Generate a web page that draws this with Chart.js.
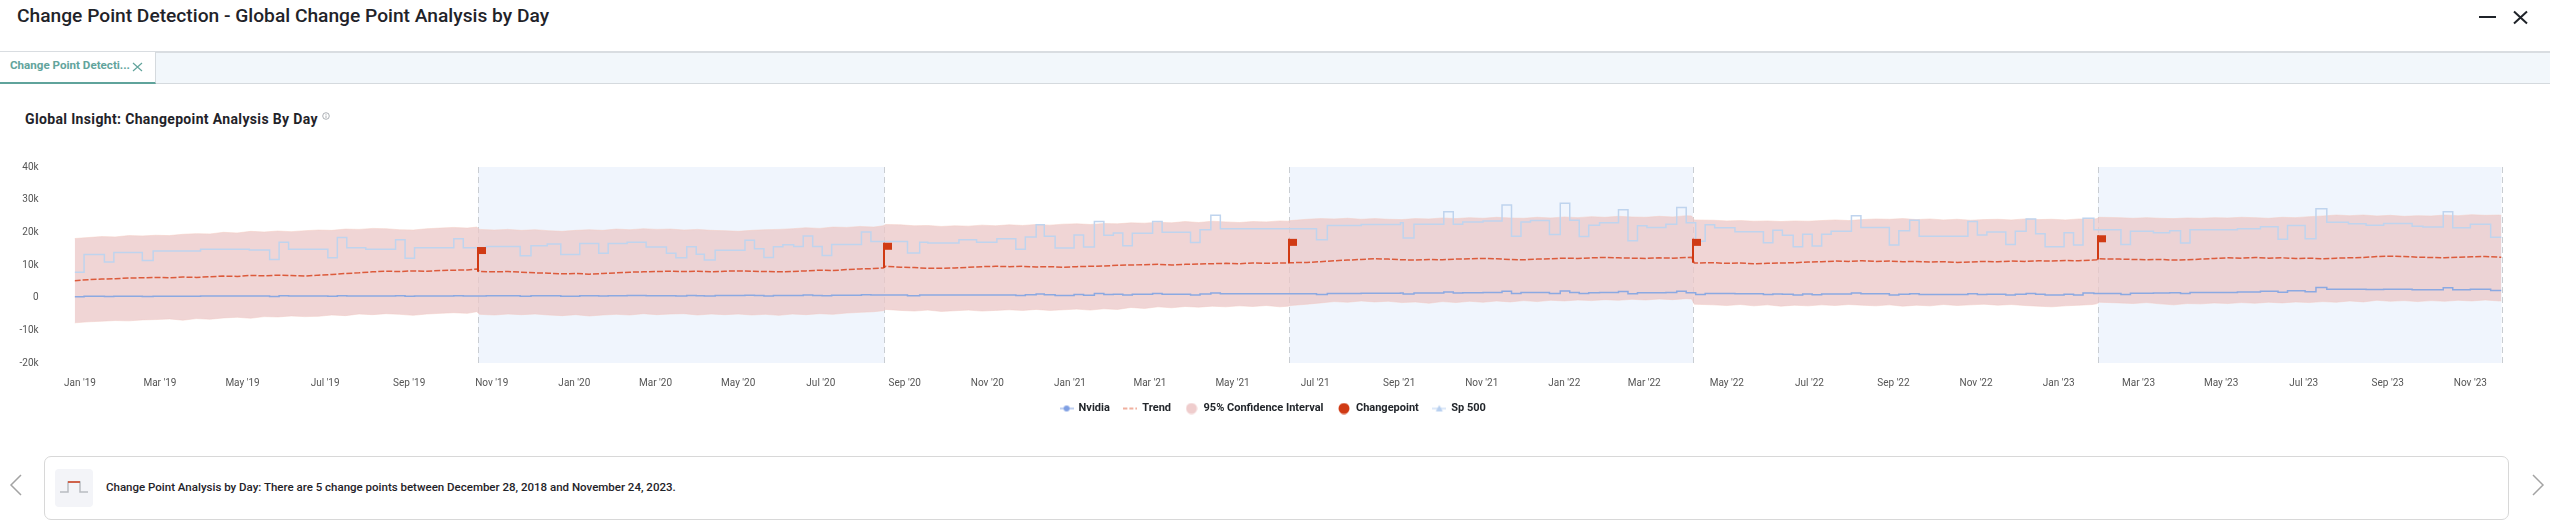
<!DOCTYPE html>
<html lang="en">

<head>
  <meta charset="UTF-8">
  <title>Change Point Detection</title>
  <script src="https://cdn.jsdelivr.net/npm/chart.js"></script>
  <style>
    * {
      box-sizing: border-box;
    }

    body {
      margin: 0;
      width: 2550px;
      height: 528px;
      overflow: hidden;
      position: relative;
      background: #fff;
      font-family: 'Roboto', sans-serif;
      color: #1f2329;
    }

    .abs {
      position: absolute;
      white-space: nowrap;
    }

    #title {
      left: 17px;
      top: 3px;
      font-size: 19.200px;
      line-height: 26px;
      font-weight: 500;
    }

    #tabbar {
      left: 0;
      top: 51px;
      width: 2550px;
      height: 33px;
      background: #f2f7fb;
      border-top: 2px solid #d9dde1;
      border-bottom: 1px solid #d5dade;
    }

    #tab {
      left: 0;
      top: 52px;
      width: 156px;
      height: 32px;
      background: #fff;
      border-right: 1px solid #d5dade;
      border-bottom: 2px solid #5fa39b;
    }

    #tabtext {
      left: 10px;
      top: 57px;
      font-size: 11.600px;
      line-height: 16px;
      font-weight: 700;
      color: #62a49c;
    }

    #heading {
      left: 25px;
      top: 110px;
      font-size: 14px;
      line-height: 18px;
      font-weight: 700;
      letter-spacing: 0.350px;
    }

    #chartbox {
      left: 0;
      top: 150px;
      width: 2546px;
      height: 274px;
    }

    #insight {
      left: 44px;
      top: 456px;
      width: 2465px;
      height: 64px;
      border: 1px solid #d8d8d8;
      border-radius: 7px;
    }

    #iconbox {
      left: 55px;
      top: 469px;
      width: 38px;
      height: 38px;
      border-radius: 4px;
      background: #f3f4f8;
    }

    #insighttext {
      left: 106px;
      top: 479px;
      font-size: 11.500px;
      line-height: 16px;
      font-weight: 500;
    }
  </style>
</head>

<body>
  <div class="abs" id="title">Change Point Detection - Global Change Point Analysis by Day</div>
  <svg class="abs" style="left:2470px;top:5px" width="70" height="24" fill="none" stroke="#1f2329" stroke-width="2">
    <path d="M9 12H26" />
    <path d="M44 6.500L57 18.500M57 6.500L44 18.500" />
  </svg>

  <div class="abs" id="tabbar"></div>
  <div class="abs" id="tab"></div>
  <div class="abs" id="tabtext">Change Point Detecti...</div>
  <svg class="abs" style="left:132px;top:62px" width="12" height="10" fill="none" stroke="#62a49c" stroke-width="1.200">
    <path d="M1 1L10 9M10 1L1 9" />
  </svg>

  <div class="abs" id="heading">Global Insight: Changepoint Analysis By Day</div>
  <svg class="abs" style="left:322px;top:112px" width="8" height="8" fill="none" stroke="#8a8f96" stroke-width="0.700">
    <circle cx="4" cy="4" r="3.300" />
    <path d="M4 3.500V6M4 2V2.800" />
  </svg>

  <div class="abs" id="chartbox"><canvas id="chart" width="2546" height="274"></canvas></div>

  <svg class="abs" style="left:8px;top:472px" width="16" height="26" fill="none" stroke="#a3a3a3" stroke-width="1.500">
    <path d="M13 3L3 13L13 23" />
  </svg>
  <div class="abs" id="insight"></div>
  <div class="abs" id="iconbox"></div>
  <svg class="abs" style="left:58px;top:478px" width="32" height="20" fill="none" stroke-width="1.500">
    <path d="M2 14H10V4H22V14H30" stroke="#b9bcc1" />
    <path d="M10 4H22" stroke="#d2401f" />
  </svg>
  <div class="abs" id="insighttext">Change Point Analysis by Day: There are 5 change points between December 28, 2018 and November 24, 2023.</div>
  <svg class="abs" style="left:2530px;top:472px" width="16" height="26" fill="none" stroke="#a3a3a3" stroke-width="1.500">
    <path d="M3 3L13 13L3 23" />
  </svg>

  <script>
    // x values are days since 2018-12-28
    const tickDays = [4, 63, 124, 185, 247, 308, 369, 429, 490, 551, 613, 674, 735, 794, 855, 916, 978, 1039, 1100, 1159, 1220, 1281, 1343, 1404, 1465, 1524, 1585, 1646, 1708, 1769];
    const tickLabels = ["Jan '19", "Mar '19", "May '19", "Jul '19", "Sep '19", "Nov '19", "Jan '20", "Mar '20", "May '20", "Jul '20", "Sep '20", "Nov '20", "Jan '21", "Mar '21", "May '21", "Jul '21", "Sep '21", "Nov '21", "Jan '22", "Mar '22", "May '22", "Jul '22", "Sep '22", "Nov '22", "Jan '23", "Mar '23", "May '23", "Jul '23", "Sep '23", "Nov '23"];
    const yTicks = [-20000, -10000, 0, 10000, 20000, 30000, 40000];

    // step series, value holds from its day until the next day in the list
    const stepDays = [
      0, 7, 22, 29, 50, 58, 93, 129, 144, 151,
      158, 187, 194, 201, 215, 237, 244, 251, 280, 287,
      304, 329, 337, 349, 359, 373, 387, 394, 408, 422,
      437, 444, 452, 459, 465, 473, 495, 502, 509, 516,
      523, 531, 538, 545, 552, 559, 581, 588, 615, 624,
      630, 653, 666, 681, 695, 702, 710, 716, 724, 738,
      745, 753, 760, 767, 774, 781, 796, 803, 824, 831,
      839, 846, 917, 925, 950, 979, 981, 989, 1011, 1018,
      1025, 1040, 1054, 1061, 1068, 1075, 1089, 1097, 1104, 1111,
      1118, 1126, 1140, 1147, 1154, 1161, 1175, 1183, 1190, 1197,
      1204, 1211, 1226, 1247, 1254, 1261, 1269, 1276, 1283, 1290,
      1297, 1312, 1319, 1340, 1347, 1355, 1362, 1398, 1405, 1412,
      1426, 1433, 1441, 1448, 1455, 1469, 1476, 1483, 1491, 1511,
      1518, 1535, 1547, 1555, 1562, 1597, 1614, 1627, 1634, 1647,
      1655, 1663, 1679, 1692, 1705, 1726, 1734, 1749, 1756, 1769,
      1784, 1792
    ];
    const sp500 = [
      7800, 13200, 10900, 13800, 11400, 14300, 14800, 14600, 11700, 17000,
      14800, 12200, 18400, 15300, 14800, 17700, 12100, 15300, 18000, 15300,
      15700, 12800, 15900, 16400, 13200, 16600, 13600, 16600, 17000, 15500,
      13600, 12200, 15600, 13300, 11500, 14500, 17600, 15000, 12300, 15600,
      16200, 15700, 18900, 15700, 12900, 16300, 20100, 17200, 13700, 17000,
      16700, 17700, 17000, 18000, 14800, 18600, 22300, 18800, 15200, 19200,
      15500, 23300, 19100, 19800, 15900, 19700, 23300, 20000, 16900, 20800,
      25200, 21100, 17700, 22100, 22400, 22900, 18300, 22500, 26300, 22500,
      23200, 23500, 28400, 18800, 23200, 23600, 19300, 28900, 23700, 18700,
      22200, 22900, 26900, 17400, 22000, 21500, 22500, 27600, 22900, 17300,
      22300, 21400, 20200, 16800, 20600, 19100, 15600, 19400, 15800, 19400,
      20300, 25100, 21500, 16100, 20500, 23700, 18800, 23300, 19200, 20100,
      16300, 20300, 24100, 19600, 15600, 19900, 16100, 24300, 20800, 16300,
      20300, 19900, 20500, 16700, 20800, 21100, 21700, 17900, 22100, 18000,
      27200, 23100, 22600, 22200, 22700, 21900, 21600, 26300, 21400, 22500,
      18500, 18500
    ];
    const nvidia = [
      300, 450, 350, 450, 350, 450, 500, 500, 350, 550,
      500, 400, 600, 500, 500, 600, 400, 500, 600, 500,
      550, 450, 550, 550, 450, 550, 500, 600, 650, 600,
      550, 500, 700, 600, 500, 650, 750, 650, 500, 700,
      700, 700, 850, 700, 550, 750, 900, 800, 600, 800,
      800, 850, 800, 850, 650, 900, 1150, 900, 700, 950,
      750, 1250, 1000, 1050, 800, 1050, 1250, 1050, 850, 1150,
      1450, 1200, 1000, 1300, 1350, 1450, 1150, 1450, 1700, 1450,
      1500, 1550, 2000, 1250, 1550, 1600, 1300, 2050, 1600, 1250,
      1500, 1550, 1850, 1200, 1500, 1500, 1550, 1950, 1500, 1000,
      1300, 1250, 1200, 950, 1150, 1050, 850, 1100, 900, 1100,
      1150, 1400, 1200, 850, 1050, 1200, 950, 1200, 1000, 1050,
      800, 1050, 1300, 1050, 800, 1050, 850, 1450, 1250, 1000,
      1350, 1400, 1500, 1250, 1550, 1700, 1950, 1650, 2150, 1800,
      3100, 2600, 2550, 2500, 2600, 2450, 2400, 3000, 2400, 2600,
      2200, 2200
    ];

    // confidence band and trend, one row per change point segment
    const bandDays = [
      0, 10, 20, 30, 40, 50, 60, 70, 80, 90, 100, 110, 120, 130, 140, 150, 160, 170, 180, 190, 200, 210, 220, 230, 240, 250, 260, 270, 280, 290, 297,
      299, 310, 320, 330, 340, 350, 360, 370, 380, 390, 400, 410, 420, 430, 440, 450, 460, 470, 480, 490, 500, 510, 520, 530, 540, 550, 560, 570, 580, 590, 597,
      599, 610, 620, 630, 640, 650, 660, 670, 680, 690, 700, 710, 720, 730, 740, 750, 760, 770, 780, 790, 800, 810, 820, 830, 840, 850, 860, 870, 880, 890, 896,
      898, 910, 920, 930, 940, 950, 960, 970, 980, 990, 1000, 1010, 1020, 1030, 1040, 1050, 1060, 1070, 1080, 1090, 1100, 1110, 1120, 1130, 1140, 1150, 1160, 1170, 1180, 1190, 1194,
      1196, 1210, 1220, 1230, 1240, 1250, 1260, 1270, 1280, 1290, 1300, 1310, 1320, 1330, 1340, 1350, 1360, 1370, 1380, 1390, 1400, 1410, 1420, 1430, 1440, 1450, 1460, 1470, 1480, 1490, 1493,
      1495, 1510, 1520, 1530, 1540, 1550, 1560, 1570, 1580, 1590, 1600, 1610, 1620, 1630, 1640, 1650, 1660, 1670, 1680, 1690, 1700, 1710, 1720, 1730, 1740, 1750, 1760, 1770, 1780, 1790, 1792
    ];
    const bandUpper = [
      18100, 18400, 18700, 18600, 19000, 18900, 19100, 19000, 19400, 19600, 19500, 20000, 19800, 20300, 20100, 20400, 20200, 20500, 20700, 20600, 21000, 20900, 21200, 21100, 20800, 20700, 21100, 21300, 21500, 21300, 21600,
      20900, 20700, 20900, 20600, 20800, 20500, 20300, 20600, 20800, 20600, 21000, 20800, 21100, 20900, 21000, 20700, 20900, 20600, 20500, 20300, 20600, 20800, 20900, 21100, 21400, 21200, 21600, 21500, 21800, 21600, 22000,
      22400, 22300, 22000, 22100, 21800, 22000, 21900, 22200, 22000, 22300, 22100, 22400, 22200, 22500, 22600, 22400, 22700, 22600, 22900, 22800, 23100, 22900, 23300, 23000, 23400, 23200, 23000, 23300, 23200, 23500, 23400,
      23600, 24000, 24200, 24100, 24300, 24000, 24200, 24000, 23900, 24200, 24100, 24400, 24200, 24500, 24300, 24600, 24400, 24300, 24600, 24400, 24700, 24500, 24800, 24600, 24900, 24700, 24600, 24900, 24700, 25100, 25000,
      23800, 23700, 23500, 23600, 23400, 23500, 23300, 23500, 23400, 23600, 23800, 23600, 23900, 24100, 24000, 24200, 23900, 24100, 23800, 24000, 23700, 23900, 24000, 23800, 24100, 23900, 24000, 23800, 24100, 24000, 24200,
      24600, 24500, 24300, 24500, 24300, 24200, 24400, 24300, 24500, 24400, 24600, 24500, 24300, 24600, 24500, 24800, 25000, 25300, 25100, 25300, 25000, 25200, 24900, 25100, 25000, 25300, 25100, 25400, 25200, 25300, 25200
    ];
    const bandLower = [
      -7700, -7400, -7200, -7000, -7100, -6800, -6700, -6500, -6900, -6400, -6600, -6200, -6000, -6300, -5800, -5900, -5600, -5800, -5700, -5300, -5500, -5000, -5200, -4900, -5100, -5400, -5000, -4800, -4600, -4800, -4300,
      -5100, -5300, -5000, -5200, -5000, -5300, -5500, -5200, -5600, -5300, -5100, -5300, -4900, -5200, -5000, -4900, -5300, -5000, -5200, -5000, -5300, -5100, -5400, -5000, -5200, -4900, -5100, -4700, -4500, -4300, -4000,
      -3600, -3900, -4100, -3800, -4200, -4000, -3800, -4100, -3900, -3700, -3900, -3600, -3900, -3700, -3500, -3800, -3400, -3600, -3000, -3300, -2800, -3100, -2700, -2900, -2600, -2800, -2500, -2700, -2400, -2800, -2600,
      -2400, -2000, -1600, -1200, -1400, -1000, -1300, -1100, -1500, -1300, -1700, -1200, -1500, -1100, -1400, -1000, -1300, -900, -1200, -800, -1000, -700, -900, -600, -800, -500, -700, -400, -600, -300, -400,
      -2000, -2200, -2400, -2100, -2500, -2200, -2600, -2300, -2500, -2200, -2400, -2100, -2300, -2500, -2200, -2600, -2300, -2500, -2100, -2400, -2200, -2000, -2300, -2100, -2400, -2600, -2800, -2500, -2300, -2100, -1900,
      -1400, -1600, -1800, -1500, -1900, -2200, -1800, -1900, -1600, -1800, -1500, -1700, -1400, -1600, -1300, -1500, -1200, -1400, -1000, -1300, -800, -1100, -900, -1200, -900, -1100, -800, -1000, -700, -1000, -1000
    ];
    const trend = [
      5200, 5500, 5700, 5800, 6000, 6100, 6200, 6100, 6300, 6200, 6400, 6600, 6500, 6800, 6700, 6900, 6800, 6600, 6900, 7100, 7400, 7600, 7900, 8100, 8000, 8200, 8100, 8300, 8400, 8500, 8800,
      8000, 7900, 8000, 7800, 7600, 7500, 7300, 7400, 7200, 7400, 7600, 7800, 7900, 8000, 8100, 8000, 8100, 7900, 8100, 8200, 8100, 8000, 7900, 8000, 8200, 8400, 8300, 8600, 8800, 8900, 9100,
      9600, 9300, 9200, 9000, 9000, 9100, 9300, 9500, 9600, 9500, 9600, 9400, 9500, 9300, 9500, 9600, 9700, 9900, 10000, 10100, 10200, 10000, 10200, 10300, 10400, 10500, 10400, 10600, 10500, 10600, 10600,
      10700, 10800, 11000, 11300, 11500, 11700, 11900, 11800, 11600, 11500, 11700, 11600, 11800, 11900, 12000, 11900, 11700, 11600, 11800, 11900, 12100, 12000, 12200, 12300, 12200, 12100, 12000, 12200, 12100, 12300, 12400,
      10600, 10700, 10500, 10600, 10400, 10500, 10600, 10700, 10900, 11000, 11200, 11100, 11300, 11100, 11200, 11000, 11100, 10900, 11000, 10800, 10900, 11100, 11000, 11200, 11100, 11300, 11200, 11400, 11300, 11500, 11600,
      11900, 11800, 11700, 11600, 11700, 11500, 11600, 11800, 12000, 12200, 12100, 12300, 12100, 12200, 12000, 12100, 11900, 12100, 12200, 12300, 12600, 12700, 12600, 12400, 12300, 12200, 12400, 12500, 12600, 12400, 12400
    ];

    const changepointDays = [298, 598, 897, 1195, 1494];
    const flagTops = [15500, 16800, 18000, 18000, 19100];
    const flagBases = [7900, 9100, 10600, 10700, 11700];
    const shadedFrom = [298, 897, 1494];
    const shadedTo = [598, 1195, 1792];
    const dividerDays = [298, 598, 897, 1195, 1494, 1792];

    function toPoints(days, values) {
      return days.map((d, i) => ({ x: d, y: values[i] }));
    }

    // small canvases used as legend glyphs
    function lineGlyph(color, dashed, marker) {
      const c = document.createElement('canvas');
      c.width = 14;
      c.height = 10;
      const g = c.getContext('2d');
      g.strokeStyle = color;
      g.fillStyle = color;
      g.lineWidth = 1;
      g.setLineDash(dashed ? [4, 2] : []);
      g.beginPath();
      g.moveTo(0, 5);
      g.lineTo(14, 5);
      g.stroke();
      if (marker === 'circle') {
        g.beginPath();
        g.arc(7, 5, 3, 0, Math.PI * 2);
        g.fill();
      }
      if (marker === 'triangle') {
        g.beginPath();
        g.moveTo(7, 1.5);
        g.lineTo(10.5, 8);
        g.lineTo(3.5, 8);
        g.fill();
      }
      return c;
    }

    function dotGlyph(color) {
      const c = document.createElement('canvas');
      c.width = 12;
      c.height = 12;
      const g = c.getContext('2d');
      g.fillStyle = color;
      g.beginPath();
      g.arc(6, 6, 5.5, 0, Math.PI * 2);
      g.fill();
      return c;
    }

    const backdrop = {
      id: 'backdrop',
      beforeDatasetsDraw(chart) {
        const { ctx, chartArea, scales } = chart;
        ctx.save();
        ctx.fillStyle = '#f0f5fd';
        shadedFrom.forEach((from, i) => {
          const x0 = scales.x.getPixelForValue(from);
          const x1 = scales.x.getPixelForValue(shadedTo[i]);
          ctx.fillRect(x0, chartArea.top, x1 - x0, chartArea.bottom - chartArea.top);
        });
        ctx.strokeStyle = '#c9cdd2';
        ctx.setLineDash([6, 4]);
        dividerDays.forEach(day => {
          const x = Math.round(scales.x.getPixelForValue(day)) + 0.5;
          ctx.beginPath();
          ctx.moveTo(x, chartArea.top);
          ctx.lineTo(x, chartArea.bottom);
          ctx.stroke();
        });
        ctx.restore();
      }
    };

    const flags = {
      id: 'flags',
      afterDatasetsDraw(chart) {
        const { ctx, scales } = chart;
        ctx.save();
        ctx.strokeStyle = '#d03a14';
        ctx.fillStyle = '#d03a14';
        ctx.lineWidth = 2;
        changepointDays.forEach((day, i) => {
          const x = Math.round(scales.x.getPixelForValue(day));
          const top = scales.y.getPixelForValue(flagTops[i]);
          ctx.beginPath();
          ctx.moveTo(x, top);
          ctx.lineTo(x, scales.y.getPixelForValue(flagBases[i]));
          ctx.stroke();
          ctx.fillRect(x, top, 8, 7);
        });
        ctx.restore();
      }
    };

    const datasets = [
      {
        label: 'Nvidia',
        data: toPoints(stepDays, nvidia),
        stepped: true,
        borderColor: '#8ba9e2',
        borderWidth: 1.5,
        pointRadius: 0,
        order: 2,
        glyph: lineGlyph('#7f9fe3', false, 'circle')
      },
      {
        label: 'Trend',
        data: toPoints(bandDays, trend),
        borderColor: '#dc5b3c',
        borderWidth: 1.5,
        borderDash: [6, 2],
        pointRadius: 0,
        order: 1,
        glyph: lineGlyph('#e0603f', true)
      },
      {
        label: '95% Confidence Interval',
        data: toPoints(bandDays, bandUpper),
        borderColor: 'rgba(245, 205, 195, 0.5)',
        borderWidth: 1,
        backgroundColor: 'rgba(235, 199, 199, 0.75)',
        fill: '+1',
        pointRadius: 0,
        order: 5,
        glyph: dotGlyph('#efcdcd')
      },
      {
        label: 'Lower bound',
        data: toPoints(bandDays, bandLower),
        borderColor: 'rgba(245, 205, 195, 0.5)',
        borderWidth: 1,
        pointRadius: 0,
        order: 5
      },
      {
        label: 'Changepoint',
        data: toPoints(changepointDays, flagTops),
        showLine: false,
        pointRadius: 0,
        order: 0,
        glyph: dotGlyph('#d03a14')
      },
      {
        label: 'Sp 500',
        data: toPoints(stepDays, sp500),
        stepped: true,
        borderColor: '#bfd4ee',
        borderWidth: 1.5,
        pointRadius: 0,
        order: 3,
        glyph: lineGlyph('#b8d0f0', false, 'triangle')
      }
    ];

    new Chart(document.getElementById('chart'), {
      type: 'line',
      data: { datasets },
      plugins: [backdrop, flags],
      options: {
        responsive: false,
        animation: false,
        layout: { padding: { top: 17, bottom: 0 } },
        scales: {
          x: {
            type: 'linear',
            min: 0,
            max: 1792,
            grid: { display: false },
            border: { display: false },
            afterBuildTicks: scale => {
              scale.ticks = tickDays.map(value => ({ value }));
            },
            afterFit: scale => {
              scale.height = 26;
            },
            ticks: {
              autoSkip: false,
              maxRotation: 0,
              padding: 6,
              color: '#555',
              font: { family: 'Roboto', size: 10 },
              callback: value => tickLabels[tickDays.indexOf(value)]
            }
          },
          y: {
            min: -20000,
            max: 40000,
            grid: { display: false, drawTicks: false },
            border: { display: false },
            afterBuildTicks: scale => {
              scale.ticks = yTicks.map(value => ({ value }));
            },
            // large tick padding also pads top and bottom, so reset those
            afterFit: scale => {
              scale.width = 74.600;
              scale.paddingTop = 0;
              scale.paddingBottom = 0;
            },
            ticks: {
              padding: 36,
              color: '#555',
              font: { family: 'Roboto', size: 10 },
              callback: value => (value === 0 ? '0' : value / 1000 + 'k')
            }
          },
          // empty axis, only keeps the margin right of the plot without moving the legend
          margin: {
            position: 'right',
            min: 0,
            max: 1,
            grid: { display: false, drawTicks: false },
            border: { display: false },
            ticks: { display: false },
            afterFit: scale => {
              scale.width = 44.500;
              scale.paddingTop = 0;
              scale.paddingBottom = 0;
            }
          }
        },
        plugins: {
          tooltip: { enabled: false },
          legend: {
            position: 'bottom',
            labels: {
              usePointStyle: true,
              pointStyleWidth: 13,
              padding: 14,
              color: '#22262b',
              font: { family: 'Roboto', size: 11, weight: '700' },
              generateLabels: chart => chart.data.datasets
                .map((ds, i) => ({
                  text: ds.label,
                  pointStyle: ds.glyph,
                  datasetIndex: i,
                  fontColor: '#22262b',
                  lineWidth: 0
                }))
                .filter(item => item.pointStyle)
            }
          }
        }
      }
    });
  </script>
</body>

</html>
